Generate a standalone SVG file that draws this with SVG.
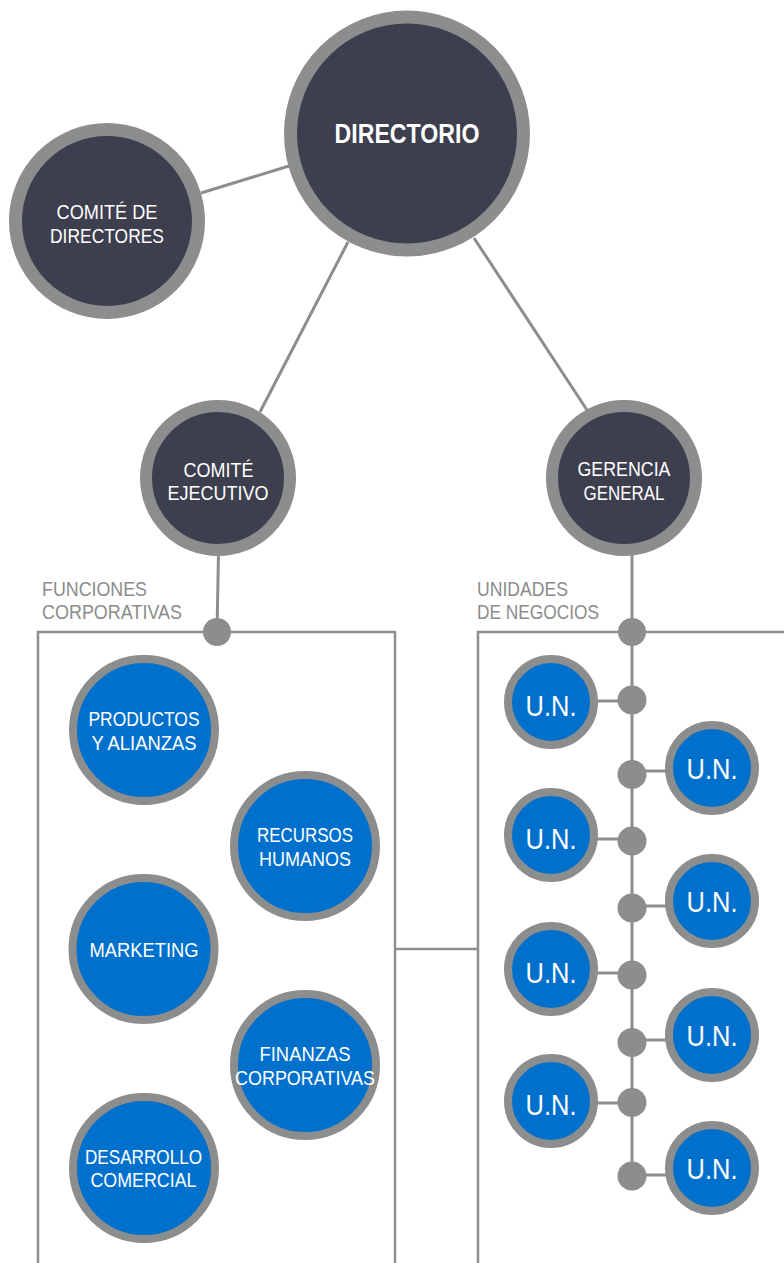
<svg xmlns="http://www.w3.org/2000/svg" width="784" height="1263" viewBox="0 0 784 1263">
<style>
.c{stroke:#8c8e8e;fill:none;stroke-width:3}
.b{stroke:#8c8e8e;fill:none;stroke-width:2.5}
.d{fill:#8c8e8e}
.nv{fill:#3d3e4e;stroke:#8c8e8e}
.bl{fill:#0070cd;stroke:#8c8e8e;stroke-width:8}
text{font-family:"Liberation Sans Narrow","Liberation Sans",Arial,sans-serif;fill:#ffffff;text-anchor:middle;font-size:21px}
.h{fill:#8a8c8c;text-anchor:start;font-size:21px}
.un{font-size:30px}
.big{font-weight:bold;font-size:27px}
</style>
<g id="connectors">
<line class="c" x1="201" y1="193" x2="289" y2="166"/>
<line class="c" x1="348" y1="242" x2="260" y2="412"/>
<line class="c" x1="474" y1="238" x2="587" y2="410"/>
<line class="c" x1="218.5" y1="552" x2="217" y2="632"/>
<line class="c" x1="632" y1="552" x2="632" y2="1176"/>
<polyline class="b" points="38,1263 38,632 395,632 395,1263"/>
<polyline class="b" points="478,1263 478,632 784,632"/>
<line class="b" x1="395" y1="949" x2="478" y2="949"/>
<line class="c" x1="595" y1="701" x2="632" y2="701"/>
<line class="c" x1="595" y1="839" x2="632" y2="839"/>
<line class="c" x1="595" y1="973" x2="632" y2="973"/>
<line class="c" x1="595" y1="1103" x2="632" y2="1103"/>
<line class="c" x1="632" y1="771" x2="668" y2="771"/>
<line class="c" x1="632" y1="906" x2="668" y2="906"/>
<line class="c" x1="632" y1="1040" x2="668" y2="1040"/>
<line class="c" x1="632" y1="1175" x2="668" y2="1175"/>
<circle class="d" cx="217" cy="632" r="14"/>
<circle class="d" cx="632" cy="632" r="14"/>
<circle class="d" cx="632" cy="700" r="14.5"/>
<circle class="d" cx="632" cy="774.5" r="14.5"/>
<circle class="d" cx="632" cy="841" r="14.5"/>
<circle class="d" cx="632" cy="908" r="14.5"/>
<circle class="d" cx="632" cy="975" r="14.5"/>
<circle class="d" cx="632" cy="1042.5" r="14.5"/>
<circle class="d" cx="632" cy="1102.5" r="14.5"/>
<circle class="d" cx="632" cy="1176" r="14.5"/>
</g>
<g id="directorio">
<circle class="nv" cx="407" cy="133.5" r="116.5" stroke-width="13"/>
<text class="big" x="407" y="143" textLength="145" lengthAdjust="spacingAndGlyphs">DIRECTORIO</text>
</g>
<g id="comite-directores">
<circle class="nv" cx="107" cy="221" r="91.5" stroke-width="13"/>
<text x="107" y="219" textLength="101" lengthAdjust="spacingAndGlyphs">COMITÉ DE</text>
<text x="107" y="243" textLength="114" lengthAdjust="spacingAndGlyphs">DIRECTORES</text>
</g>
<g id="comite-ejecutivo">
<circle class="nv" cx="218" cy="478" r="72" stroke-width="12"/>
<text x="218.5" y="477" textLength="70" lengthAdjust="spacingAndGlyphs">COMITÉ</text>
<text x="218" y="500" textLength="101" lengthAdjust="spacingAndGlyphs">EJECUTIVO</text>
</g>
<g id="gerencia-general">
<circle class="nv" cx="624" cy="478" r="72" stroke-width="12"/>
<text x="624" y="476" textLength="93" lengthAdjust="spacingAndGlyphs">GERENCIA</text>
<text x="624" y="500" textLength="81" lengthAdjust="spacingAndGlyphs">GENERAL</text>
</g>
<g id="label-funciones">
<text class="h" x="42" y="596" textLength="105" lengthAdjust="spacingAndGlyphs">FUNCIONES</text>
<text class="h" x="42" y="619" textLength="140" lengthAdjust="spacingAndGlyphs">CORPORATIVAS</text>
</g>
<g id="label-unidades">
<text class="h" x="477" y="596" textLength="91" lengthAdjust="spacingAndGlyphs">UNIDADES</text>
<text class="h" x="477" y="619" textLength="122" lengthAdjust="spacingAndGlyphs">DE NEGOCIOS</text>
</g>
<g id="productos">
<circle class="bl" cx="144" cy="730" r="71"/>
<text x="144" y="726" textLength="111" lengthAdjust="spacingAndGlyphs">PRODUCTOS</text>
<text x="144" y="750" textLength="105" lengthAdjust="spacingAndGlyphs">Y ALIANZAS</text>
</g>
<g id="recursos">
<circle class="bl" cx="305" cy="846" r="71"/>
<text x="305" y="842" textLength="96" lengthAdjust="spacingAndGlyphs">RECURSOS</text>
<text x="305" y="866" textLength="92" lengthAdjust="spacingAndGlyphs">HUMANOS</text>
</g>
<g id="marketing">
<circle class="bl" cx="143.5" cy="949" r="71"/>
<text x="144" y="956.5" textLength="109" lengthAdjust="spacingAndGlyphs">MARKETING</text>
</g>
<g id="finanzas">
<circle class="bl" cx="305" cy="1065" r="71"/>
<text x="305" y="1061" textLength="91" lengthAdjust="spacingAndGlyphs">FINANZAS</text>
<text x="305" y="1085" textLength="140" lengthAdjust="spacingAndGlyphs">CORPORATIVAS</text>
</g>
<g id="desarrollo">
<circle class="bl" cx="144" cy="1168" r="71"/>
<text x="143.5" y="1164" textLength="117" lengthAdjust="spacingAndGlyphs">DESARROLLO</text>
<text x="143.5" y="1187" textLength="106" lengthAdjust="spacingAndGlyphs">COMERCIAL</text>
</g>
<g id="un-1"><circle class="bl" cx="551" cy="702" r="43"/><text class="un" x="551" y="716" textLength="51" lengthAdjust="spacingAndGlyphs">U.N.</text></g>
<g id="un-2"><circle class="bl" cx="712" cy="768" r="43"/><text class="un" x="712" y="779" textLength="51" lengthAdjust="spacingAndGlyphs">U.N.</text></g>
<g id="un-3"><circle class="bl" cx="551" cy="835" r="43"/><text class="un" x="551" y="849" textLength="51" lengthAdjust="spacingAndGlyphs">U.N.</text></g>
<g id="un-4"><circle class="bl" cx="712" cy="901" r="43"/><text class="un" x="712" y="912" textLength="51" lengthAdjust="spacingAndGlyphs">U.N.</text></g>
<g id="un-5"><circle class="bl" cx="551" cy="969" r="43"/><text class="un" x="551" y="983" textLength="51" lengthAdjust="spacingAndGlyphs">U.N.</text></g>
<g id="un-6"><circle class="bl" cx="712" cy="1035" r="43"/><text class="un" x="712" y="1046" textLength="51" lengthAdjust="spacingAndGlyphs">U.N.</text></g>
<g id="un-7"><circle class="bl" cx="551" cy="1101" r="43"/><text class="un" x="551" y="1115" textLength="51" lengthAdjust="spacingAndGlyphs">U.N.</text></g>
<g id="un-8"><circle class="bl" cx="712" cy="1168" r="43"/><text class="un" x="712" y="1179" textLength="51" lengthAdjust="spacingAndGlyphs">U.N.</text></g>
</svg>
